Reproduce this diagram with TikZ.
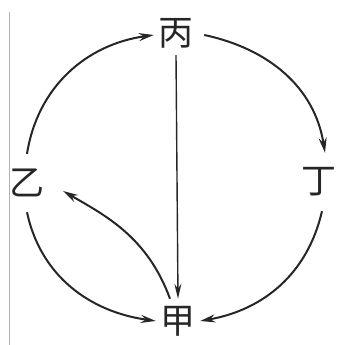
\documentclass[tikz,border=0pt]{standalone}
\usepackage{fontspec}
\newfontfamily\cjk{Noto Sans CJK SC}
\usetikzlibrary{arrows.meta}
\begin{document}
\begin{tikzpicture}[x=1pt,y=1pt,
  lbl/.style={font=\cjk\fontsize{35}{35}\selectfont, inner sep=0pt, minimum width=44pt, minimum height=44pt, text=black!85},
  side/.style={lbl, minimum height=58pt},
  arr/.style={line width=2pt, draw=black!85, -{Stealth[length=15pt,width=8pt]}},
  thin/.style={line width=1.4pt, draw=black!85, -{Stealth[length=15pt,width=7pt]}}]
\useasboundingbox (0,0) rectangle (338,345);
\draw[black!30, line width=0.8pt] (9,333) -- (9,0);
\node[lbl]  (bing) at (176,312) {丙};
\node[side] (ding) at (319,163) {丁};
\node[side] (yi)   at (27,162)  {乙};
\node[lbl]  (jia)  at (178,24)  {甲};
\draw[arr] (yi.north) to[out=81,in=188] ([yshift=-2pt]bing.west);
\draw[arr] ([xshift=6pt,yshift=-2pt]bing.east) to[out=-12,in=99] ([xshift=6pt]ding.north);
\draw[arr] ([xshift=3pt]ding.south) to[out=-103,in=10] (jia.east);
\draw[arr] (yi.south) to[out=-78,in=172] (jia.west);
\draw[thin] (bing.south) -- (jia.north);
\draw[arr, shorten >=16pt] ([xshift=-8pt]jia.north) to[out=110,in=-30] (yi.east);
\end{tikzpicture}
\end{document}
